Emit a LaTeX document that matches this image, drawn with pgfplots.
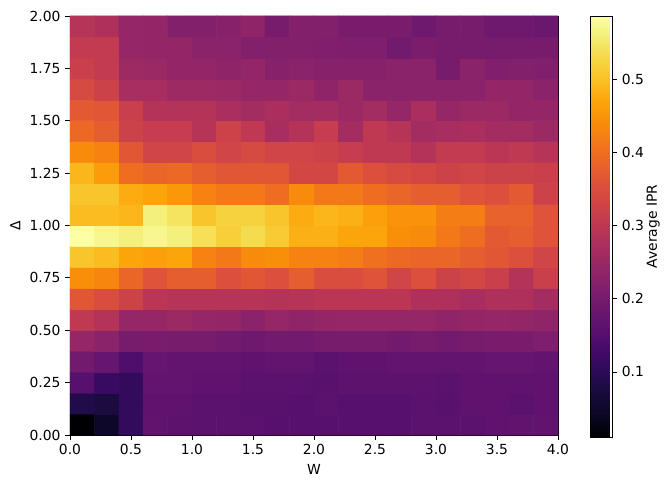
\documentclass[border=0pt]{standalone}
\usepackage{pgfplots}
\pgfplotsset{compat=1.18}
\usepackage{fontspec}
\setmainfont{DejaVu Sans}
\pgfplotsset{
  colormap={inferno}{rgb255=(0,0,4) rgb255=(10,7,34) rgb255=(22,11,57) rgb255=(40,11,84) rgb255=(66,10,104) rgb255=(87,16,110) rgb255=(106,23,110) rgb255=(127,30,108) rgb255=(147,38,103) rgb255=(168,46,95) rgb255=(188,55,84) rgb255=(206,67,72) rgb255=(221,81,58) rgb255=(233,100,41) rgb255=(243,120,25) rgb255=(249,142,9) rgb255=(252,165,10) rgb255=(250,193,39) rgb255=(246,215,70) rgb255=(242,238,117) rgb255=(252,255,164)},
  every tick label/.append style={font=\fontsize{10.4}{12}\selectfont},
  label style={font=\fontsize{10.4}{12}\selectfont},
  /pgf/number format/assume math mode=true,
}
\pgfplotstableread[row sep=\\]{
x y c\\
0.1 0.05 0.011\\ 0.3 0.05 0.048\\ 0.5 0.05 0.110\\ 0.7 0.05 0.170\\ 0.9 0.05 0.164\\ 1.1 0.05 0.161\\ 1.3 0.05 0.161\\ 1.5 0.05 0.161\\ 1.7 0.05 0.156\\ 1.9 0.05 0.156\\ 2.1 0.05 0.156\\ 2.3 0.05 0.156\\ 2.5 0.05 0.156\\ 2.7 0.05 0.156\\ 2.9 0.05 0.161\\ 3.1 0.05 0.161\\ 3.3 0.05 0.161\\ 3.5 0.05 0.167\\ 3.7 0.05 0.170\\ 3.9 0.05 0.170\\
0.1 0.15 0.088\\ 0.3 0.15 0.077\\ 0.5 0.15 0.110\\ 0.7 0.15 0.167\\ 0.9 0.15 0.167\\ 1.1 0.15 0.161\\ 1.3 0.15 0.161\\ 1.5 0.15 0.158\\ 1.7 0.15 0.158\\ 1.9 0.15 0.156\\ 2.1 0.15 0.161\\ 2.3 0.15 0.156\\ 2.5 0.15 0.156\\ 2.7 0.15 0.156\\ 2.9 0.15 0.161\\ 3.1 0.15 0.158\\ 3.3 0.15 0.167\\ 3.5 0.15 0.167\\ 3.7 0.15 0.161\\ 3.9 0.15 0.167\\
0.1 0.25 0.156\\ 0.3 0.25 0.116\\ 0.5 0.25 0.110\\ 0.7 0.25 0.173\\ 0.9 0.25 0.173\\ 1.1 0.25 0.167\\ 1.3 0.25 0.167\\ 1.5 0.25 0.161\\ 1.7 0.25 0.161\\ 1.9 0.25 0.161\\ 2.1 0.25 0.158\\ 2.3 0.25 0.164\\ 2.5 0.25 0.164\\ 2.7 0.25 0.164\\ 2.9 0.25 0.164\\ 3.1 0.25 0.161\\ 3.3 0.25 0.167\\ 3.5 0.25 0.167\\ 3.7 0.25 0.167\\ 3.9 0.25 0.167\\
0.1 0.35 0.195\\ 0.3 0.35 0.178\\ 0.5 0.35 0.144\\ 0.7 0.35 0.178\\ 0.9 0.35 0.173\\ 1.1 0.35 0.173\\ 1.3 0.35 0.173\\ 1.5 0.35 0.167\\ 1.7 0.35 0.173\\ 1.9 0.35 0.173\\ 2.1 0.35 0.161\\ 2.3 0.35 0.167\\ 2.5 0.35 0.167\\ 2.7 0.35 0.173\\ 2.9 0.35 0.173\\ 3.1 0.35 0.173\\ 3.3 0.35 0.173\\ 3.5 0.35 0.178\\ 3.7 0.35 0.178\\ 3.9 0.35 0.173\\
0.1 0.45 0.246\\ 0.3 0.45 0.229\\ 0.5 0.45 0.201\\ 0.7 0.45 0.206\\ 0.9 0.45 0.201\\ 1.1 0.45 0.201\\ 1.3 0.45 0.195\\ 1.5 0.45 0.190\\ 1.7 0.45 0.195\\ 1.9 0.45 0.195\\ 2.1 0.45 0.201\\ 2.3 0.45 0.201\\ 2.5 0.45 0.201\\ 2.7 0.45 0.195\\ 2.9 0.45 0.201\\ 3.1 0.45 0.195\\ 3.3 0.45 0.201\\ 3.5 0.45 0.206\\ 3.7 0.45 0.206\\ 3.9 0.45 0.212\\
0.1 0.55 0.303\\ 0.3 0.55 0.286\\ 0.5 0.55 0.246\\ 0.7 0.55 0.246\\ 0.9 0.55 0.252\\ 1.1 0.55 0.246\\ 1.3 0.55 0.240\\ 1.5 0.55 0.229\\ 1.7 0.55 0.246\\ 1.9 0.55 0.235\\ 2.1 0.55 0.240\\ 2.3 0.55 0.246\\ 2.5 0.55 0.246\\ 2.7 0.55 0.246\\ 2.9 0.55 0.246\\ 3.1 0.55 0.235\\ 3.3 0.55 0.240\\ 3.5 0.55 0.246\\ 3.7 0.55 0.240\\ 3.9 0.55 0.235\\
0.1 0.65 0.365\\ 0.3 0.65 0.348\\ 0.5 0.65 0.325\\ 0.7 0.65 0.297\\ 0.9 0.65 0.291\\ 1.1 0.65 0.291\\ 1.3 0.65 0.291\\ 1.5 0.65 0.291\\ 1.7 0.65 0.286\\ 1.9 0.65 0.291\\ 2.1 0.65 0.297\\ 2.3 0.65 0.297\\ 2.5 0.65 0.297\\ 2.7 0.65 0.297\\ 2.9 0.65 0.280\\ 3.1 0.65 0.280\\ 3.3 0.65 0.269\\ 3.5 0.65 0.280\\ 3.7 0.65 0.280\\ 3.9 0.65 0.263\\
0.1 0.75 0.444\\ 0.3 0.75 0.432\\ 0.5 0.75 0.387\\ 0.7 0.75 0.359\\ 0.9 0.75 0.376\\ 1.1 0.75 0.376\\ 1.3 0.75 0.353\\ 1.5 0.75 0.365\\ 1.7 0.75 0.353\\ 1.9 0.75 0.376\\ 2.1 0.75 0.348\\ 2.3 0.75 0.348\\ 2.5 0.75 0.359\\ 2.7 0.75 0.331\\ 2.9 0.75 0.353\\ 3.1 0.75 0.325\\ 3.3 0.75 0.336\\ 3.5 0.75 0.319\\ 3.7 0.75 0.286\\ 3.9 0.75 0.319\\
0.1 0.85 0.506\\ 0.3 0.85 0.495\\ 0.5 0.85 0.472\\ 0.7 0.85 0.466\\ 0.9 0.85 0.472\\ 1.1 0.85 0.427\\ 1.3 0.85 0.416\\ 1.5 0.85 0.438\\ 1.7 0.85 0.444\\ 1.9 0.85 0.427\\ 2.1 0.85 0.427\\ 2.3 0.85 0.421\\ 2.5 0.85 0.404\\ 2.7 0.85 0.393\\ 2.9 0.85 0.387\\ 3.1 0.85 0.387\\ 3.3 0.85 0.376\\ 3.5 0.85 0.365\\ 3.7 0.85 0.353\\ 3.9 0.85 0.331\\
0.1 0.95 0.587\\ 0.3 0.95 0.574\\ 0.5 0.95 0.562\\ 0.7 0.95 0.574\\ 0.9 0.95 0.562\\ 1.1 0.95 0.540\\ 1.3 0.95 0.517\\ 1.5 0.95 0.534\\ 1.7 0.95 0.512\\ 1.9 0.95 0.483\\ 2.1 0.95 0.483\\ 2.3 0.95 0.472\\ 2.5 0.95 0.472\\ 2.7 0.95 0.444\\ 2.9 0.95 0.438\\ 3.1 0.95 0.416\\ 3.3 0.95 0.399\\ 3.5 0.95 0.370\\ 3.7 0.95 0.376\\ 3.9 0.95 0.359\\
0.1 1.05 0.495\\ 0.3 1.05 0.495\\ 0.5 1.05 0.489\\ 0.7 1.05 0.562\\ 0.9 1.05 0.545\\ 1.1 1.05 0.506\\ 1.3 1.05 0.523\\ 1.5 1.05 0.523\\ 1.7 1.05 0.506\\ 1.9 1.05 0.478\\ 2.1 1.05 0.489\\ 2.3 1.05 0.483\\ 2.5 1.05 0.466\\ 2.7 1.05 0.449\\ 2.9 1.05 0.449\\ 3.1 1.05 0.421\\ 3.3 1.05 0.421\\ 3.5 1.05 0.382\\ 3.7 1.05 0.382\\ 3.9 1.05 0.359\\
0.1 1.15 0.506\\ 0.3 1.15 0.506\\ 0.5 1.15 0.478\\ 0.7 1.15 0.472\\ 0.9 1.15 0.455\\ 1.1 1.15 0.427\\ 1.3 1.15 0.416\\ 1.5 1.15 0.416\\ 1.7 1.15 0.399\\ 1.9 1.15 0.438\\ 2.1 1.15 0.416\\ 2.3 1.15 0.416\\ 2.5 1.15 0.399\\ 2.7 1.15 0.387\\ 2.9 1.15 0.376\\ 3.1 1.15 0.376\\ 3.3 1.15 0.359\\ 3.5 1.15 0.353\\ 3.7 1.15 0.370\\ 3.9 1.15 0.325\\
0.1 1.25 0.489\\ 0.3 1.25 0.461\\ 0.5 1.25 0.399\\ 0.7 1.25 0.387\\ 0.9 1.25 0.393\\ 1.1 1.25 0.376\\ 1.3 1.25 0.365\\ 1.5 1.25 0.365\\ 1.7 1.25 0.365\\ 1.9 1.25 0.336\\ 2.1 1.25 0.336\\ 2.3 1.25 0.370\\ 2.5 1.25 0.353\\ 2.7 1.25 0.342\\ 2.9 1.25 0.336\\ 3.1 1.25 0.325\\ 3.3 1.25 0.331\\ 3.5 1.25 0.325\\ 3.7 1.25 0.325\\ 3.9 1.25 0.319\\
0.1 1.35 0.438\\ 0.3 1.35 0.427\\ 0.5 1.35 0.365\\ 0.7 1.35 0.331\\ 0.9 1.35 0.331\\ 1.1 1.35 0.348\\ 1.3 1.35 0.331\\ 1.5 1.35 0.342\\ 1.7 1.35 0.331\\ 1.9 1.35 0.331\\ 2.1 1.35 0.325\\ 2.3 1.35 0.314\\ 2.5 1.35 0.303\\ 2.7 1.35 0.303\\ 2.9 1.35 0.286\\ 3.1 1.35 0.308\\ 3.3 1.35 0.308\\ 3.5 1.35 0.297\\ 3.7 1.35 0.303\\ 3.9 1.35 0.291\\
0.1 1.45 0.393\\ 0.3 1.45 0.376\\ 0.5 1.45 0.325\\ 0.7 1.45 0.314\\ 0.9 1.45 0.314\\ 1.1 1.45 0.291\\ 1.3 1.45 0.325\\ 1.5 1.45 0.303\\ 1.7 1.45 0.269\\ 1.9 1.45 0.286\\ 2.1 1.45 0.314\\ 2.3 1.45 0.263\\ 2.5 1.45 0.303\\ 2.7 1.45 0.291\\ 2.9 1.45 0.263\\ 3.1 1.45 0.269\\ 3.3 1.45 0.274\\ 3.5 1.45 0.263\\ 3.7 1.45 0.263\\ 3.9 1.45 0.252\\
0.1 1.55 0.370\\ 0.3 1.55 0.365\\ 0.5 1.55 0.319\\ 0.7 1.55 0.286\\ 0.9 1.55 0.286\\ 1.1 1.55 0.286\\ 1.3 1.55 0.274\\ 1.5 1.55 0.263\\ 1.7 1.55 0.274\\ 1.9 1.55 0.263\\ 2.1 1.55 0.263\\ 2.3 1.55 0.252\\ 2.5 1.55 0.263\\ 2.7 1.55 0.246\\ 2.9 1.55 0.274\\ 3.1 1.55 0.246\\ 3.3 1.55 0.252\\ 3.5 1.55 0.252\\ 3.7 1.55 0.240\\ 3.9 1.55 0.243\\
0.1 1.65 0.342\\ 0.3 1.65 0.325\\ 0.5 1.65 0.269\\ 0.7 1.65 0.269\\ 0.9 1.65 0.257\\ 1.1 1.65 0.257\\ 1.3 1.65 0.252\\ 1.5 1.65 0.246\\ 1.7 1.65 0.246\\ 1.9 1.65 0.252\\ 2.1 1.65 0.235\\ 2.3 1.65 0.252\\ 2.5 1.65 0.229\\ 2.7 1.65 0.229\\ 2.9 1.65 0.229\\ 3.1 1.65 0.229\\ 3.3 1.65 0.229\\ 3.5 1.65 0.240\\ 3.7 1.65 0.240\\ 3.9 1.65 0.229\\
0.1 1.75 0.319\\ 0.3 1.75 0.308\\ 0.5 1.75 0.257\\ 0.7 1.75 0.252\\ 0.9 1.75 0.240\\ 1.1 1.75 0.240\\ 1.3 1.75 0.235\\ 1.5 1.75 0.240\\ 1.7 1.75 0.223\\ 1.9 1.75 0.229\\ 2.1 1.75 0.223\\ 2.3 1.75 0.223\\ 2.5 1.75 0.223\\ 2.7 1.75 0.229\\ 2.9 1.75 0.229\\ 3.1 1.75 0.201\\ 3.3 1.75 0.229\\ 3.5 1.75 0.215\\ 3.7 1.75 0.218\\ 3.9 1.75 0.215\\
0.1 1.85 0.308\\ 0.3 1.85 0.308\\ 0.5 1.85 0.246\\ 0.7 1.85 0.240\\ 0.9 1.85 0.240\\ 1.1 1.85 0.229\\ 1.3 1.85 0.229\\ 1.5 1.85 0.218\\ 1.7 1.85 0.218\\ 1.9 1.85 0.218\\ 2.1 1.85 0.215\\ 2.3 1.85 0.212\\ 2.5 1.85 0.212\\ 2.7 1.85 0.195\\ 2.9 1.85 0.209\\ 3.1 1.85 0.201\\ 3.3 1.85 0.201\\ 3.5 1.85 0.201\\ 3.7 1.85 0.201\\ 3.9 1.85 0.201\\
0.1 1.95 0.291\\ 0.3 1.95 0.280\\ 0.5 1.95 0.246\\ 0.7 1.95 0.240\\ 0.9 1.95 0.218\\ 1.1 1.95 0.218\\ 1.3 1.95 0.223\\ 1.5 1.95 0.235\\ 1.7 1.95 0.201\\ 1.9 1.95 0.218\\ 2.1 1.95 0.218\\ 2.3 1.95 0.206\\ 2.5 1.95 0.206\\ 2.7 1.95 0.206\\ 2.9 1.95 0.190\\ 3.1 1.95 0.201\\ 3.3 1.95 0.201\\ 3.5 1.95 0.190\\ 3.7 1.95 0.190\\ 3.9 1.95 0.184\\
}\ipr
\begin{document}
\begin{tikzpicture}
\begin{axis}[
  scale only axis, width=366pt, height=314.25pt,
  xmin=0, xmax=4, ymin=0, ymax=2,
  xtick={0,0.5,...,4}, ytick={0,0.25,...,2},
  xticklabel style={/pgf/number format/.cd, fixed, fixed zerofill, precision=1},
  yticklabel style={/pgf/number format/.cd, fixed, fixed zerofill, precision=2},
  tick align=outside, tick pos=left,
  major tick length=3.6pt,
  tick style={black, line width=0.6pt},
  axis line style={line width=0.6pt},
  xlabel={W}, ylabel={Δ},
  colormap name=inferno,
  point meta min=0.011, point meta max=0.587,
  colorbar,
  colorbar style={
    width=16.5pt, height=315.75pt,
    at={(parent axis.north east)}, anchor=north west,
    xshift=15.75pt, yshift=0pt,
    ytick={0.1,0.2,0.3,0.4,0.5},
    yticklabel style={/pgf/number format/.cd, fixed, fixed zerofill, precision=1},
    yticklabel pos=right, ytick pos=right, xtick=\empty,
    tick align=outside,
    major tick length=3.6pt,
    ylabel={Average IPR},
    ylabel style={at={(axis description cs:2.86,0.5)}, anchor=center},
  },
]
\addplot[matrix plot*, mesh/cols=20, point meta=explicit] table[x=x, y=y, meta=c] {\ipr};
\end{axis}
\pgfresetboundingbox
\path (-52.5pt,-40.5pt) rectangle (450pt,326.25pt);
\end{tikzpicture}
\end{document}
